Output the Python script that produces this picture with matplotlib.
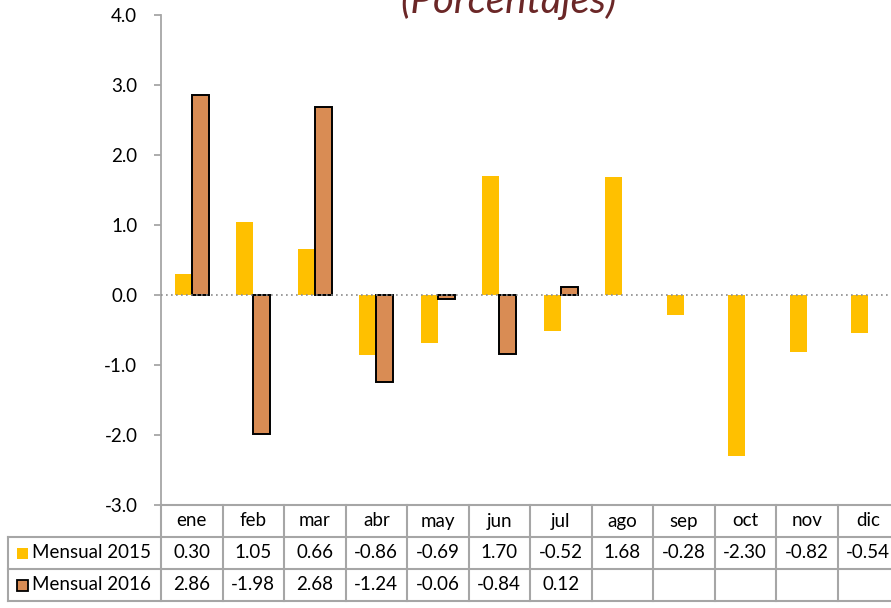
import numpy as np
import matplotlib.pyplot as plt
from matplotlib.patches import Rectangle

plt.rcParams['font.family'] = ['Lato', 'DejaVu Sans']

meses = ["ene", "feb", "mar", "abr", "may", "jun", "jul", "ago", "sep", "oct", "nov", "dic"]
mensual_2015 = [0.30, 1.05, 0.66, -0.86, -0.69, 1.70, -0.52, 1.68, -0.28, -2.30, -0.82, -0.54]
mensual_2016 = [2.86, -1.98, 2.68, -1.24, -0.06, -0.84, 0.12]
series_labels = ["Mensual 2015", "Mensual 2016"]
yticks = [-3.0, -2.0, -1.0, 0.0, 1.0, 2.0, 3.0, 4.0]

c2015 = "#FFC000"
c2016 = "#D98C54"
grid_c = "#A6A6A6"
fs = 13.5

W, H = 891, 608
fig = plt.figure(figsize=(W / 100, H / 100), dpi=100)
fig.set_facecolor("white")
left, right = 161, 161 + 12 * 61.5
top, bottom = 15, 505
ax = fig.add_axes([left / W, 1 - bottom / H, (right - left) / W, (bottom - top) / H])

x = np.arange(len(meses))
w = 0.28
ax.bar(x - 0.14, mensual_2015, width=w, color=c2015, zorder=2)
x16 = np.arange(len(mensual_2016))
ax.bar(x16 + 0.14, mensual_2016, width=w, color=c2016, edgecolor="black", linewidth=1.4, zorder=3)
ax.axhline(0, color="#8C8C8C", linestyle=(0, (1, 2)), linewidth=1.2, zorder=4)

ax.set_xlim(-0.5, len(meses) - 0.5)
ax.set_ylim(-3, 4)
ax.set_yticks(yticks)
ax.set_yticklabels([f"{v:.1f}" for v in yticks], fontsize=fs)
ax.tick_params(axis="y", length=5, color=grid_c, width=1.3, pad=12)
ax.set_xticks([])
for s in ["top", "right", "bottom"]:
    ax.spines[s].set_visible(False)
ax.spines["left"].set_color(grid_c)
ax.spines["left"].set_linewidth(1.3)

fig.text(508 / W, 1 - 13 / H, "(Porcentajes)", ha="center", va="baseline",
         fontsize=29, style="italic", color="#6B2727")

# data table below the axes (pixel rows in figure coords)
row_h = 32
rows_y = [bottom, bottom + row_h, bottom + 2 * row_h, bottom + 3 * row_h]
fy = lambda py: 1 - py / H
fx = lambda px: px / W
col_edges = [left + i * 61.5 for i in range(len(meses) + 1)]
lw = 1.5
fig.add_artist(plt.Line2D([fx(left), fx(right)], [fy(rows_y[0])] * 2, color=grid_c, lw=lw))
for ry in rows_y[1:]:
    fig.add_artist(plt.Line2D([fx(8), fx(right)], [fy(ry)] * 2, color=grid_c, lw=lw))
for cx in col_edges:
    fig.add_artist(plt.Line2D([fx(cx)] * 2, [fy(rows_y[0]), fy(rows_y[3])], color=grid_c, lw=lw))
fig.add_artist(plt.Line2D([fx(8)] * 2, [fy(rows_y[1]), fy(rows_y[3])], color=grid_c, lw=lw))

for i, m in enumerate(meses):
    cx = (col_edges[i] + col_edges[i + 1]) / 2
    fig.text(fx(cx), fy(rows_y[0] + row_h / 2), m, ha="center", va="center", fontsize=fs)
    fig.text(fx(cx), fy(rows_y[1] + row_h / 2), f"{mensual_2015[i]:.2f}", ha="center", va="center", fontsize=fs)
    if i < len(mensual_2016):
        fig.text(fx(cx), fy(rows_y[2] + row_h / 2), f"{mensual_2016[i]:.2f}", ha="center", va="center", fontsize=fs)

for r, (lab, col) in enumerate(zip(series_labels, [c2015, c2016])):
    cy = rows_y[r + 1] + row_h / 2
    sq = 11
    fig.add_artist(Rectangle((fx(17), fy(cy + sq / 2)), sq / W, sq / H, facecolor=col,
                             edgecolor="black" if r == 1 else "none", linewidth=1.3))
    fig.text(fx(32), fy(cy), lab, ha="left", va="center", fontsize=fs)

fig.savefig("out.png", dpi=100, facecolor="white")
